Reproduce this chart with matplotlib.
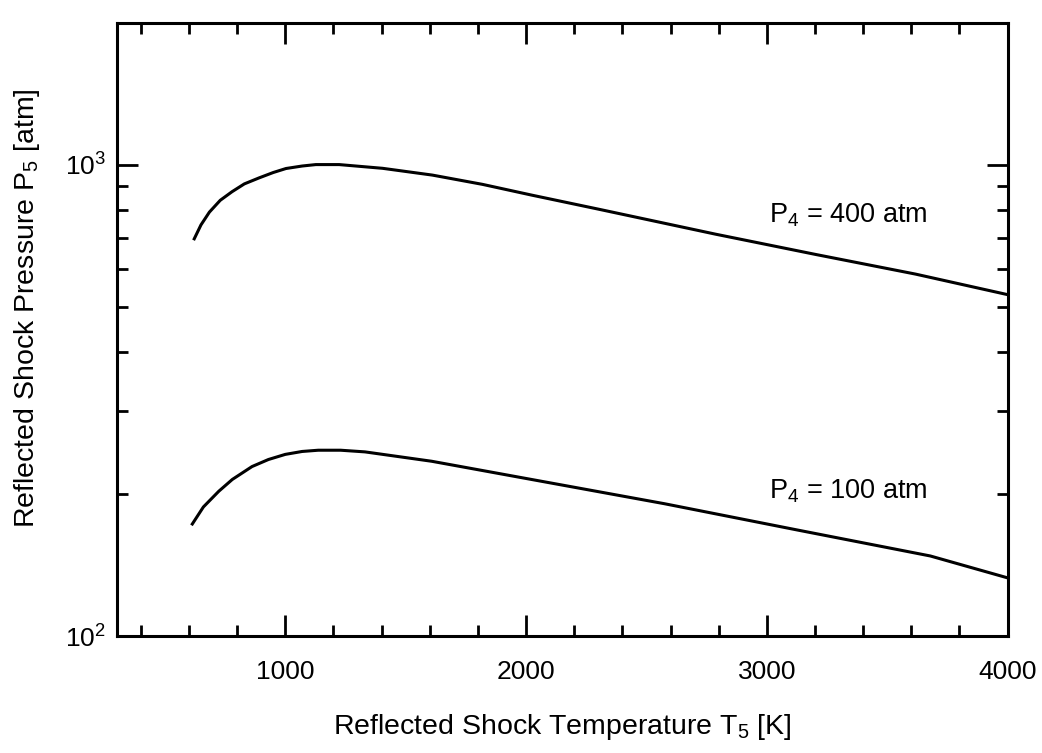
import matplotlib
matplotlib.use("Agg")
import matplotlib.pyplot as plt
from matplotlib.ticker import FixedLocator, LogFormatterMathtext, NullFormatter

plt.rcParams["font.family"] = ["Liberation Sans", "DejaVu Sans"]
plt.rcParams["mathtext.fontset"] = "custom"
plt.rcParams["mathtext.rm"] = "Liberation Sans"
plt.rcParams["mathtext.it"] = "Liberation Sans"

# 读图估值：反射激波温度 T5 [K] 与压力 P5 [atm]
t5_400 = [622, 650, 685, 730, 779, 830, 891, 950, 1003, 1070, 1127, 1224, 1404,
          1611, 1819, 2026, 2303, 2787, 3202, 3617, 4000]
p5_400 = [696, 745, 793, 840, 876, 910, 937, 962, 981, 993, 1000, 1000, 982,
          950, 908, 861, 804, 712, 645, 586, 530]

t5_100 = [614, 660, 724, 780, 862, 930, 1000, 1070, 1137, 1230, 1331, 1608,
          2023, 2575, 3127, 3679, 4000]
p5_100 = [173, 188, 203, 215, 229, 237, 243, 246.5, 248, 248, 246, 235,
          215, 191, 168, 148, 133]

x_major = [1000, 2000, 3000, 4000]
x_minor = list(range(400, 4000, 200))
y_major = [100, 1000]
y_minor = [200, 300, 400, 500, 600, 700, 800, 900]

fig = plt.figure(figsize=(10.42, 7.53), dpi=100)
ax = fig.add_axes([0.112, 0.155, 0.855, 0.815])

ax.plot(t5_400, p5_400, color="black", lw=2.2)
ax.plot(t5_100, p5_100, color="black", lw=2.2)

ax.set_yscale("log")
ax.set_xlim(300, 4000)
ax.set_ylim(100, 2000)

ax.xaxis.set_major_locator(FixedLocator(x_major))
ax.xaxis.set_minor_locator(FixedLocator(x_minor))
ax.yaxis.set_major_locator(FixedLocator(y_major))
ax.yaxis.set_minor_locator(FixedLocator(y_minor))
ax.yaxis.set_major_formatter(LogFormatterMathtext())
ax.yaxis.set_minor_formatter(NullFormatter())

ax.tick_params(which="both", direction="in", top=True, right=True, width=2, colors="black")
ax.tick_params(which="major", length=15)
ax.tick_params(which="minor", length=8)
ax.tick_params(axis="x", which="major", labelsize=19, pad=17)
ax.tick_params(axis="y", which="major", labelsize=19, pad=8)
for sp in ax.spines.values():
    sp.set_linewidth(2.2)

ax.set_xlabel("Reflected Shock Temperature T$_5$ [K]", fontsize=20.5, labelpad=20)
ax.set_ylabel("Reflected Shock Pressure P$_5$ [atm]", fontsize=20.5)
ax.yaxis.set_label_coords(-0.084, 0.535)

ax.text(3010, 780, "P$_4$ = 400 atm", fontsize=19.5, ha="left", va="center")
ax.text(3010, 203, "P$_4$ = 100 atm", fontsize=19.5, ha="left", va="center")

fig.savefig("out.png", dpi=100, facecolor="white")
